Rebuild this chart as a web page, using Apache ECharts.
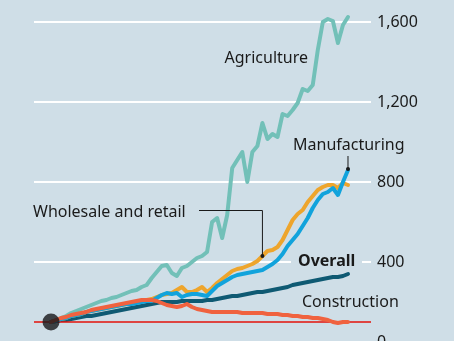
<!DOCTYPE html>
<html><head><meta charset="utf-8">
<script src="https://cdn.jsdelivr.net/npm/echarts@6/dist/echarts.min.js"></script>
<style>html,body{margin:0;padding:0;background:#cfdee7;}#c{width:454px;height:341px;}</style>
</head><body><div id="c"></div>
<script>
// Index, start = 100 (60 periods)
const agriculture = [100,110,120,130,145,155,165,175,185,195,205,210,220,225,235,245,255,260,275,285,320,350,380,385,345,330,370,380,400,420,430,450,600,620,520,635,870,910,950,800,950,980,1095,1015,1040,1025,1140,1130,1160,1195,1265,1255,1285,1460,1600,1615,1605,1495,1585,1625];
const manufacturing = [100,105,115,120,130,135,140,150,155,160,165,170,175,180,185,190,190,195,200,205,205,220,235,245,240,245,225,235,240,240,235,230,255,280,295,310,325,335,340,345,350,355,360,375,390,410,440,480,510,540,580,620,670,710,740,750,770,735,800,860];
const wholesale = [100,105,115,120,130,135,140,150,155,160,165,170,175,180,185,190,195,200,205,210,215,225,235,240,245,260,275,250,250,260,275,250,270,295,315,335,355,365,370,380,390,405,430,455,460,475,510,560,610,640,660,700,730,760,775,785,785,770,795,785];
const overall = [100,105,110,110,115,120,125,130,130,135,140,145,150,155,160,165,170,175,180,185,190,195,200,200,200,200,205,205,205,205,205,210,210,215,220,225,230,230,235,240,245,250,250,255,260,265,270,275,285,290,295,300,305,310,315,320,325,325,330,340];
const construction = [100,110,120,125,135,140,145,150,160,165,170,175,180,185,190,195,200,205,210,210,210,205,195,185,180,175,180,190,175,165,160,155,150,150,150,150,150,150,145,145,145,145,145,140,140,140,135,135,130,130,125,125,120,120,115,110,100,95,100,100];
const yTicks = [0,400,800,1200,1600];
const labels = {agriculture:'Agriculture', manufacturing:'Manufacturing', wholesale:'Wholesale and retail', overall:'Overall', construction:'Construction'};

const BG = '#cfdee7';
const FONT = 'Noto Sans';
const pairs = a => a.map((v,i)=>[i,v]);
function line(name, data, color, z){
  return {type:'line', name, data:pairs(data), showSymbol:false, symbol:'none', z, clip:false,
    lineStyle:{color, width:4, cap:'round', join:'round'}, silent:true, animation:false};
}
const chart = echarts.init(document.getElementById('c'), null, {renderer:'canvas'});
chart.setOption({
  backgroundColor: BG,
  animation:false,
  grid:{left:34, top:22, width:337, height:320, containLabel:false, outerBoundsMode:'none'},
  xAxis:{type:'value', min:-3.38, max:63.57, show:false},
  yAxis:{type:'value', position:'right', min:yTicks[0], max:yTicks[yTicks.length-1], interval:400,
    axisLine:{show:false}, axisTick:{show:false},
    axisLabel:{color:'#1a1a1a', fontSize:16, fontFamily:FONT, margin:6},
    splitLine:{lineStyle:{color:'#ffffff', width:2}}},
  series:[
    {type:'line', data:[], z:1, markLine:{silent:true, symbol:'none', label:{show:false},
      lineStyle:{color:'#e3120b', width:1.5, type:'solid'}, data:[{yAxis:100}]}},
    line(labels.agriculture, agriculture, '#72c0b8', 2),
    line(labels.overall, overall, '#0f5a73', 3),
    line(labels.wholesale, wholesale, '#eea52c', 4),
    line(labels.manufacturing, manufacturing, '#11a3dc', 5),
    line(labels.construction, construction, '#f0623f', 6),
    {type:'scatter', data:[[0,100]], symbolSize:17, itemStyle:{color:'#16161a'}, z:10, silent:true, clip:false}
  ]
});
const last = manufacturing.length-1;
const pM = chart.convertToPixel({gridIndex:0}, [last, manufacturing[last]]);
const wi = 42;
const pW = chart.convertToPixel({gridIndex:0}, [wi, wholesale[wi]]);
const txt = (text, x, y, opts={}) => ({type:'text', z:20, style:Object.assign({text, x, y, fill:'#1a1a1a',
  font:`${opts.bold?'bold ':''}16px "${FONT}"`, textVerticalAlign:'middle', textAlign:opts.align||'left'}, opts.style||{})});
chart.setOption({graphic:[
  txt(labels.agriculture, 308, 58, {align:'right'}),
  txt(labels.manufacturing, 293, 145),
  {type:'line', z:20, shape:{x1:pM[0], y1:156, x2:pM[0], y2:pM[1]-1}, style:{stroke:'#1a1a1a', lineWidth:1}},
  {type:'circle', z:21, shape:{cx:pM[0], cy:pM[1]-1, r:2}, style:{fill:'#1a1a1a'}},
  txt(labels.wholesale, 33, 212),
  {type:'polyline', z:20, shape:{points:[[199,210.5],[pW[0],210.5],[pW[0],pW[1]]]}, style:{stroke:'#1a1a1a', lineWidth:1, fill:null}},
  {type:'circle', z:21, shape:{cx:pW[0], cy:pW[1], r:2}, style:{fill:'#1a1a1a'}},
  {type:'rect', z:19, shape:{x:291, y:254, width:71, height:16}, style:{fill:BG}},
  txt(labels.overall, 298, 261, {bold:true}),
  txt(labels.construction, 302, 302)
]});
</script></body></html>
